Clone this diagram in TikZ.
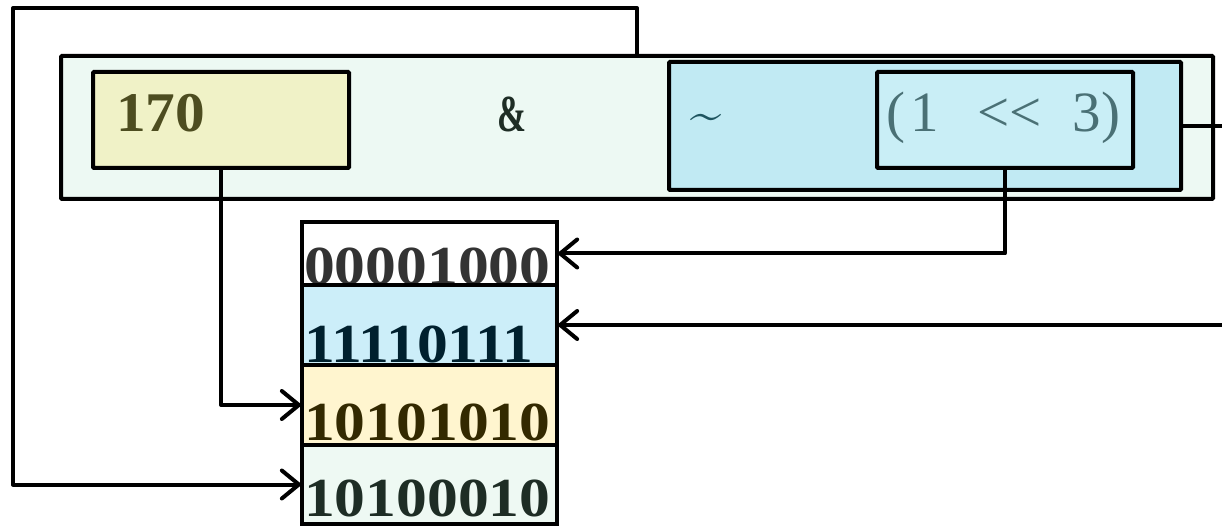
\documentclass[tikz,border=0pt]{standalone}
\usepackage{fontspec}
\usetikzlibrary{arrows.meta}
\newfontfamily\lbs[Ligatures=TeXOff]{Liberation Serif}
\definecolor{outerfill}{HTML}{EDF9F3}
\definecolor{yelfill}{HTML}{F0F2C7}
\definecolor{tilfill}{HTML}{C1EAF3}
\definecolor{shfill}{HTML}{C9EEF6}
\definecolor{cellA}{HTML}{FFFFFF}
\definecolor{cellB}{HTML}{CCEEF9}
\definecolor{cellC}{HTML}{FFF5CF}
\definecolor{cellD}{HTML}{EEF9F3}
\definecolor{txA}{HTML}{333333}
\definecolor{txB}{HTML}{00202E}
\definecolor{txC}{HTML}{332900}
\definecolor{txD}{HTML}{1E2D25}
\definecolor{txY}{HTML}{4D4D20}
\definecolor{txAmp}{HTML}{1E2D25}
\definecolor{txTil}{HTML}{1F5560}
\definecolor{txSh}{HTML}{4A7075}
\tikzset{
  boxline/.style={draw=black, line width=4pt, rounded corners=1pt, inner sep=0pt, outer sep=0pt},
  cellbox/.style={draw=black, line width=4pt, inner sep=0pt, outer sep=0pt, minimum width=255pt},
  conn/.style={draw=black, line width=4pt, line join=round, -{Straight Barb[length=17pt,width=28pt,line cap=round]}},
  bigtext/.style={inner sep=0pt, outer sep=0pt, font=\lbs\bfseries\fontsize{56}{60}\selectfont},
  celltext/.style={inner sep=0pt, outer sep=0pt, font=\lbs\bfseries\fontsize{55}{60}\selectfont, anchor=base west, xscale=1.12, transform shape},
}
\begin{document}
\begin{tikzpicture}[x=1pt, y=-1pt]
\useasboundingbox (0,0) rectangle (1222,526);
% top expression
\node[boxline, fill=outerfill, minimum width=1152pt, minimum height=143pt] (outer) at (637,127.5) {};
\node[boxline, fill=yelfill, minimum width=256pt, minimum height=96pt] (b170) at (221,120) {};
\node[boxline, fill=tilfill, minimum width=512pt, minimum height=128pt] (tbox) at (925,126) {};
\node[boxline, fill=shfill, minimum width=256pt, minimum height=96pt] (sbox) at (1005,120) {};
\node[bigtext, anchor=base west, text=txY, xscale=1.06, transform shape] (t170) at (116,132) {170};
\node[bigtext, anchor=base, text=txAmp, font=\lbs\bfseries\fontsize{52}{56}\selectfont, xscale=0.67, transform shape] (tamp) at (512,132) {\&};
\node[bigtext, anchor=base west, text=txTil, font=\fontsize{56}{60}\selectfont] (ttil) at (690,132) {\textasciitilde};
\node[bigtext, anchor=base west, text=txSh, font=\lbs\fontsize{57}{60}\selectfont] (tsh) at (886,132) {(\hspace{6pt}1\hspace{38pt}<<\hspace{31pt}3)};
% cells
\node[cellbox, fill=cellA, minimum height=63pt] (c1) at (429.5,253.5) {};
\node[cellbox, fill=cellB, minimum height=80pt] (c2) at (429.5,325) {};
\node[cellbox, fill=cellC, minimum height=80pt] (c3) at (429.5,405) {};
\node[cellbox, fill=cellD, minimum height=79pt] (c4) at (429.5,484.5) {};
\node[celltext, text=txA] (v1) at (304,285) {00001000};
\node[celltext, text=txB] (v2) at (304,362) {11110111};
\node[celltext, text=txC] (v3) at (304,440) {10101010};
\node[celltext, text=txD] (v4) at (304,516) {10100010};
\draw[line width=4pt] (c1.north west) rectangle (c4.south east);
\draw[line width=4pt] (c1.south west) -- (c1.south east);
\draw[line width=4pt] (c2.south west) -- (c2.south east);
\draw[line width=4pt] (c3.south west) -- (c3.south east);
% connectors
\coordinate (loopTL) at (13,8);
\coordinate (rightOut) at (1240,126);
\draw[conn] (outer.north) |- (loopTL) |- (c4.west);
\draw[conn] (b170.south) |- (c3.west);
\draw[conn] (sbox.south) |- (c1.east);
\draw[conn] (tbox.east) -- (rightOut) |- (c2.east);
\end{tikzpicture}
\end{document}
